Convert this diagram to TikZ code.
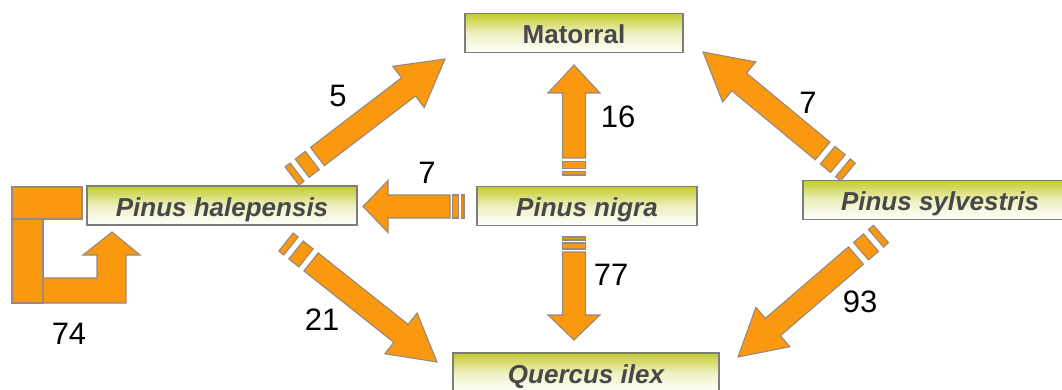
\documentclass[tikz,border=0pt]{standalone}
\usepackage{fontspec}
\setsansfont{Liberation Sans}
\usetikzlibrary{calc}

\definecolor{flowfill}{RGB}{250,152,16}
\definecolor{flowline}{RGB}{150,138,125}
\definecolor{boxtop}{RGB}{196,204,42}
\definecolor{boxline}{RGB}{125,125,125}
\definecolor{boxtext}{RGB}{72,72,72}

% striped fat arrow: tail, tip, head length, stripe unit
\newcommand\fatarrow[4]{%
  \path let \p1 = (#1), \p2 = (#2) in
    \pgfextra{\pgfmathsetmacro\fang{atan2((\y2)-(\y1),(\x2)-(\x1))}%
              \pgfmathsetmacro\flen{veclen((\x2)-(\x1),(\y2)-(\y1))}%
              \xdef\fang{\fang}\xdef\flen{\flen}};
  \begin{scope}[shift={(#1)}, rotate=\fang, x=1pt, y=1pt]
    \draw[flow] (0,-11.5) rectangle ({#4},11.5);
    \draw[flow] ({2*#4},-11.5) rectangle ({4*#4},11.5);
    \draw[flow] ({5*#4},-11.5) -- ({\flen-#3},-11.5) -- ({\flen-#3},-26)
      -- (\flen,0) -- ({\flen-#3},26) -- ({\flen-#3},11.5) -- ({5*#4},11.5) -- cycle;
  \end{scope}}

\begin{document}
\begin{tikzpicture}[
      x = 1pt, y = -1pt,
      box/.style={rectangle, draw=boxline, line width=1.4pt, top color=boxtop,
        bottom color=white, middle color=boxtop!30, minimum height=39pt,
        inner sep=0pt, text height=26pt, text depth=5pt, text=boxtext,
        font=\sffamily\bfseries\itshape\fontsize{26}{30}\selectfont},
      flow/.style={fill=flowfill, draw=flowline, line width=1.1pt},
      num/.style={font=\sffamily\fontsize{31}{34}\selectfont, inner sep=0pt},
    ]
      \clip (0,0) rectangle (1062,390);

      % boxes
      \node[box, minimum width=218pt, font=\sffamily\bfseries\fontsize{26}{30}\selectfont]
        (mat) at (574,33) {Matorral};
      \node[box, minimum width=270pt] (hal) at (222,205.5) {Pinus halepensis};
      \node[box, minimum width=220pt] (nig) at (587,206) {Pinus nigra};
      \node[box, minimum width=274pt] (syl) at (940,200) {Pinus sylvestris};
      \node[box, minimum width=266pt] (que) at (586,372.5) {Quercus ilex};

      % arrow ends
      \coordinate (halmatA) at (292,176);
      \coordinate (halmatB) at (445,59);
      \coordinate (nigmatA) at (574,175);
      \coordinate (nigmatB) at (574,65);
      \coordinate (sylmatA) at (848,172);
      \coordinate (sylmatB) at (703,52);
      \coordinate (nighalA) at (464,206.5);
      \coordinate (nighalB) at (363,206.5);
      \coordinate (halqueA) at (286,242);
      \coordinate (halqueB) at (437,362);
      \coordinate (nigqueA) at (574,237);
      \coordinate (nigqueB) at (574,340);
      \coordinate (sylqueA) at (881,234);
      \coordinate (sylqueB) at (738,357);

      \fatarrow{halmatA}{halmatB}{46}{6.4}
      \fatarrow{nigmatA}{nigmatB}{28}{3.4}
      \fatarrow{sylmatA}{sylmatB}{47}{6.6}
      \fatarrow{nighalA}{nighalB}{25}{2.8}
      \fatarrow{halqueA}{halqueB}{46}{6.4}
      \fatarrow{nigqueA}{nigqueB}{25}{3}
      \fatarrow{sylqueA}{sylqueB}{46}{6.6}

      % loop on Pinus halepensis
      \coordinate (loopB) at (112,232);
      \draw[flow] (12,187) rectangle (82,219);
      \draw[flow] (12,219) rectangle (43,303);
      \draw[flow] (43,303) -- (43,278) -- (97,278) -- (97,255) -- (83,255)
        -- (loopB) -- (140,255) -- (126,255) -- (126,303) -- cycle;

      % numbers
      \node[num] (n74) at (69,334) {74};
      \node[num] (n5)  at (338,96) {5};
      \node[num] (n16) at (618,117) {16};
      \node[num] (n7a) at (808,103) {7};
      \node[num] (n7b) at (427,173) {7};
      \node[num] (n21) at (322,320) {21};
      \node[num] (n77) at (611,275) {77};
      \node[num] (n93) at (860,302) {93};
    \end{tikzpicture}
\end{document}
